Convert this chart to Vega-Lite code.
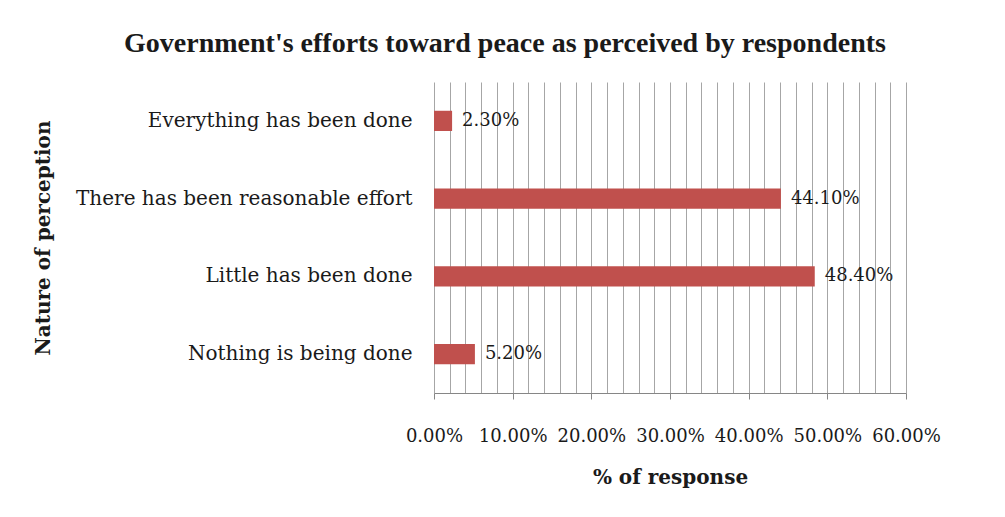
{
  "$schema": "https://vega.github.io/schema/vega-lite/v6.json",
  "width": 472,
  "height": 311,
  "autosize": "none",
  "padding": {"left": 434, "top": 82, "right": 99, "bottom": 124},
  "background": "white",
  "config": {"view": {"stroke": null}, "font": "DejaVu Serif"},
  "title": {
    "text": "Government's efforts toward peace as perceived by respondents",
    "font": "Liberation Serif",
    "fontSize": 28,
    "fontWeight": "bold",
    "color": "#1a1a1a",
    "anchor": "middle",
    "frame": "group",
    "dx": -165,
    "offset": 24
  },
  "data": {
    "values": [
      {"perception": "Everything has been done", "share": 0.023, "label": "2.30%"},
      {"perception": "There has been reasonable effort", "share": 0.441, "label": "44.10%"},
      {"perception": "Little has been done", "share": 0.484, "label": "48.40%"},
      {"perception": "Nothing is being done", "share": 0.052, "label": "5.20%"}
    ]
  },
  "encoding": {
    "y": {
      "field": "perception",
      "type": "nominal",
      "sort": null,
      "scale": {"paddingInner": 0.74, "paddingOuter": 0.37},
      "axis": {
        "title": "Nature of perception",
        "titleFont": "DejaVu Serif",
        "titleFontSize": 20,
        "titleFontWeight": "bold",
        "titleColor": "#1a1a1a",
        "titlePadding": 181,
        "labelFont": "DejaVu Serif",
        "labelFontSize": 20,
        "labelColor": "#1a1a1a",
        "labelPadding": 22,
        "domain": false,
        "ticks": false,
        "labelLimit": 500
      }
    },
    "x": {
      "field": "share",
      "type": "quantitative",
      "scale": {"domain": [0, 0.6], "nice": false},
      "axis": {
        "title": "% of response",
        "titleFont": "DejaVu Serif",
        "titleFontSize": 20,
        "titleFontWeight": "bold",
        "titleColor": "#1a1a1a",
        "titlePadding": 22,
        "values": [0, 0.02, 0.04, 0.06, 0.08, 0.1, 0.12, 0.14, 0.16, 0.18, 0.2, 0.22, 0.24, 0.26, 0.28, 0.3, 0.32, 0.34, 0.36, 0.38, 0.4, 0.42, 0.44, 0.46, 0.48, 0.5, 0.52, 0.54, 0.56, 0.58, 0.6],
        "format": ".2%",
        "labelExpr": "abs(datum.value * 10 - round(datum.value * 10)) < 0.001 ? datum.label : ''",
        "labelFont": "DejaVu Serif",
        "labelFontSize": 18,
        "labelColor": "#1a1a1a",
        "labelPadding": 28,
        "labelFlush": false,
        "labelOverlap": false,
        "grid": true,
        "gridColor": "#a6a6a6",
        "gridWidth": 1,
        "domainColor": "#868686",
        "tickSize": 6,
        "tickColor": {
          "condition": {"test": "abs(datum.value * 10 - round(datum.value * 10)) < 0.001", "value": "#868686"},
          "value": "transparent"
        }
      }
    }
  },
  "layer": [
    {"mark": {"type": "bar", "color": "#C0504D"}},
    {
      "mark": {"type": "text", "align": "left", "dx": 10, "font": "DejaVu Serif", "fontSize": 18, "color": "#1a1a1a"},
      "encoding": {"text": {"field": "label"}}
    }
  ]
}
